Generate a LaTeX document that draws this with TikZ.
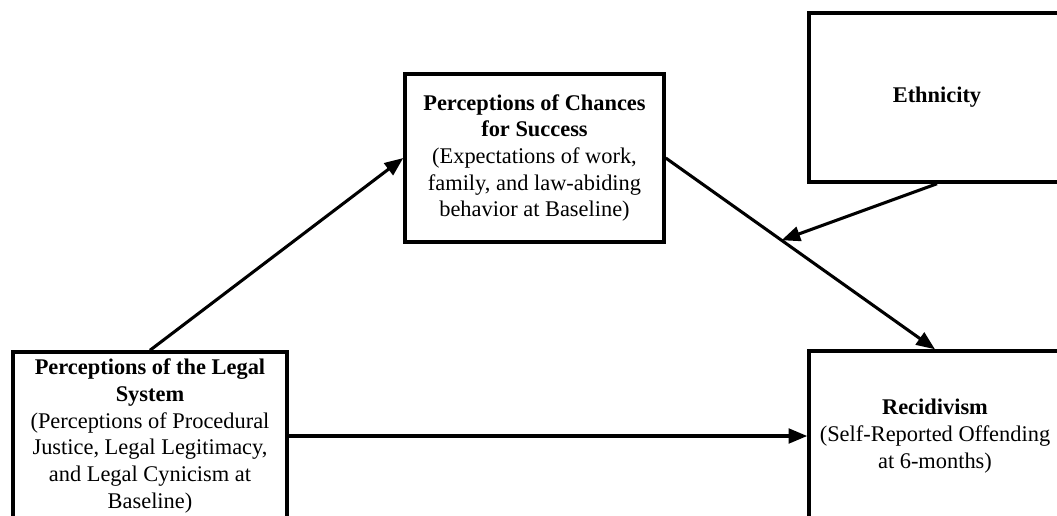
\documentclass[tikz,border=0pt]{standalone}
\usepackage{fontspec}
\setmainfont{Liberation Serif}
\usetikzlibrary{arrows.meta, positioning, calc}

\begin{document}
\begin{tikzpicture}[x=0.75pt, y=-0.75pt,
  varbox/.style={draw, line width=2.6pt, align=center, inner sep=0pt,
    font=\fontsize{16.8}{20}\selectfont},
  path arrow/.style={line width=2.3pt, -{Triangle[length=14pt, width=11pt]}}]
\useasboundingbox (0,0) rectangle (1057,515);
\clip (0,0) rectangle (1057,515);

% variables
\node[varbox, minimum width=205.5pt, minimum height=126pt] (legal) at (150,436)
  {\textbf{Perceptions of the Legal}\\ \textbf{System}\\ (Perceptions of Procedural\\
   Justice, Legal Legitimacy,\\ and Legal Cynicism at\\ Baseline)};
\node[varbox, minimum width=194.25pt, minimum height=126pt] (chances) at (534.5,158)
  {\textbf{Perceptions of Chances}\\ \textbf{for Success}\\ (Expectations of work,\\
   family, and law-abiding\\ behavior at Baseline)};
\node[varbox, minimum width=192pt, minimum height=126.75pt] (ethnic) at (937,97.5)
  {\textbf{Ethnicity}};
\node[varbox, minimum width=189pt, minimum height=127.5pt] (recid) at (935,436)
  {\textbf{Recidivism}\\ (Self-Reported Offending\\ at 6-months)};

% paths
\draw[path arrow] (legal.north) -- (chances.west);
\draw[path arrow] (chances.east) -- coordinate[pos=0.43] (moderate) (recid.north);
\draw[path arrow] (ethnic.south) -- (moderate);
\draw[path arrow] (legal.east) -- (recid.west);
\end{tikzpicture}
\end{document}
